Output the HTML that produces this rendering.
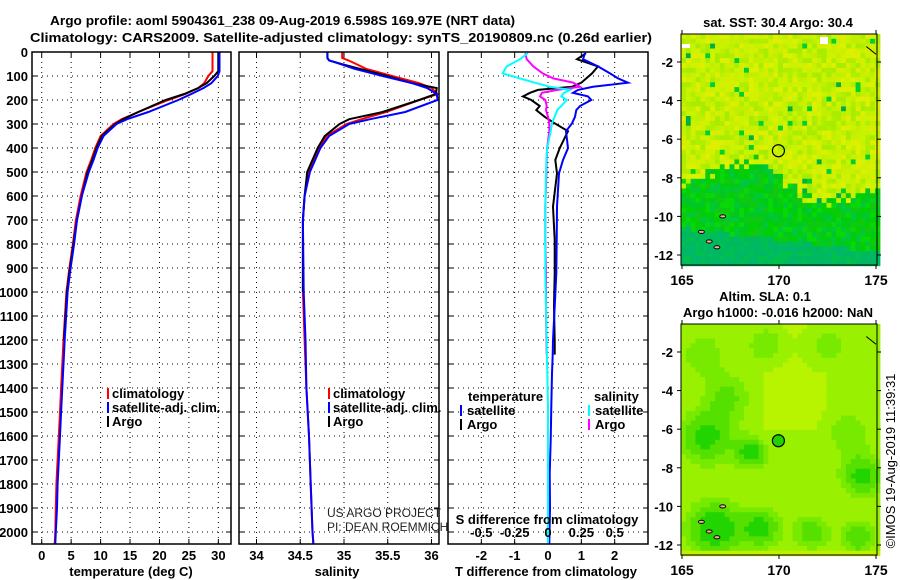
<!DOCTYPE html>
<html><head><meta charset="utf-8"><style>
html,body{margin:0;padding:0;background:#fff;}
svg{display:block;font-family:"Liberation Sans",sans-serif;}
.b{font-weight:bold;font-size:13px;fill:#000;}
</style></head><body>
<svg id="fig" width="900" height="580" viewBox="0 0 900 580" xmlns="http://www.w3.org/2000/svg">
<text class="b" x="50" y="25" font-size="14" textLength="465" lengthAdjust="spacingAndGlyphs">Argo profile: aoml 5904361_238 09-Aug-2019 6.598S 169.97E (NRT data)</text>
<text class="b" x="30" y="42" font-size="14" textLength="622" lengthAdjust="spacingAndGlyphs">Climatology: CARS2009. Satellite-adjusted climatology: synTS_20190809.nc (0.26d earlier)</text>
<g id="panels"></g>
<g id="maps"></g>
</svg>
<script>
// ---- data ----
const tDepth = [0,80,100,130,150,175,200,250,280,300,350,400,450,500,600,700,800,900,1000,1200,1400,1500,1600,1700,1800,1900,2000,2050];
const tClim  = [29.0,29.0,28.3,27.6,26.6,24.4,21.5,16.4,13.6,12.2,10.0,9.1,8.4,7.6,6.6,5.8,5.3,4.7,4.2,3.7,3.3,3.1,2.9,2.7,2.5,2.4,2.3,2.2];
const tSat   = [30.2,30.2,29.9,28.8,27.5,25.4,23.2,18.1,14.5,12.7,10.5,9.5,8.8,8.0,6.8,6.0,5.5,4.9,4.4,3.9,3.5,3.3,3.1,2.9,2.7,2.6,2.4,2.3];
const tArgo  = [30.0,30.0,29.3,28.0,26.6,24.2,21.0,16.4,13.8,12.5,10.2,9.3,8.6,7.8,6.8,6.0,5.4,4.8,4.3,3.8];
const sDepth = [0,25,35,50,70,100,130,150,175,200,250,280,300,350,400,500,600,700,1000,1200,1400,1600,1800,2000,2050];
const sClim  = [34.98,34.98,35.05,35.14,35.25,35.55,35.86,36.0,36.07,35.86,35.48,35.2,35.03,34.8,34.72,34.6,34.55,34.53,34.53,34.55,34.57,34.6,34.62,34.64,34.65];
const sSat   = [34.81,34.81,34.83,34.96,35.12,35.44,35.78,35.95,36.06,36.07,35.7,35.3,35.06,34.83,34.73,34.61,34.55,34.53,34.54,34.56,34.57,34.6,34.62,34.64,34.65];
const sArgo  = [34.81,34.81,34.83,34.97,35.18,35.49,35.78,36.06,36.05,35.86,35.44,35.06,34.95,34.78,34.70,34.58,34.55,34.53,34.53];
const dDepth = [5,30,60,89,110,128,145,158,170,185,200,225,242,270,297,330,401,450,506,644,783,922,1061,1200,1261,1339,1478,1617,1756,1900,2050];
const dTsat  = [1.11,1.05,1.5,1.86,2.1,2.4,1.35,0.9,0.75,1.2,1.3,0.96,0.85,0.81,0.72,0.54,0.6,0.45,0.33,0.27,0.26,0.25,0.2,0.15,0.14,0.12,0.1,0.08,0.05,0.06,0.04];
const dTargo = [1.14,0.87,1.5,1.32,1.15,1.0,0.72,-0.3,-0.54,-0.75,-0.5,-0.25,-0.35,-0.1,0.2,0.6,0.35,0.22,0.27,0.15,0.2,0.2,0.18,0.2,0.2];
const dSsat  = [-0.15,-0.21,-0.31,-0.34,-0.21,-0.1,0.015,0.165,0.12,0.1,0.14,0.1,0.07,0.05,0.03,0.02,-0.007,-0.012,-0.015,-0.02,-0.02,-0.02,-0.015,-0.01,-0.008,-0.005,0,0,0,0,0];
const dSargo = [-0.17,-0.16,-0.11,-0.04,0.04,0.19,0.24,0.07,-0.045,-0.06,-0.02,-0.01,-0.015,0,0.01,0.01,-0.007,-0.01,-0.012,-0.02,-0.02,-0.015,-0.015,-0.012,-0.01];
const depthTicks = [0,100,200,300,400,500,600,700,800,900,1000,1100,1200,1300,1400,1500,1600,1700,1800,1900,2000];
const tTicks = [0,5,10,15,20,25,30];
const sTicks = [34,34.5,35,35.5,36];
const dTTicks = [-2,-1,0,1,2];
const dSTicks = [-0.5,-0.25,0,0.25,0.5];
const dSTickLabels = ['-0.5','-0.25','0','0.25','0.5'];

const NS='http://www.w3.org/2000/svg';
function el(tag, attrs, parent){const e=document.createElementNS(NS,tag);for(const k in attrs)e.setAttribute(k,attrs[k]);parent.appendChild(e);return e;}
const yTop=52, pxPerM=0.24;
const yS = d => yTop + d*pxPerM;
const yBot = yS(2050);
const panels = document.getElementById('panels');

function makePanel(name, x0, x1, vmin, vmax, gridVals){
  const g = el('g',{},panels);
  
  
  const xS = v => x0 + (v-vmin)/(vmax-vmin)*(x1-x0);
  depthTicks.forEach(d=>{ if(d>0){ el('line',{x1:x0,x2:x1,y1:yS(d),y2:yS(d),stroke:'#000','stroke-width':1,'stroke-dasharray':'1 4'},g);
    el('line',{x1:x0,x2:x0+5,y1:yS(d),y2:yS(d),stroke:'#000'},g); el('line',{x1:x1-5,x2:x1,y1:yS(d),y2:yS(d),stroke:'#000'},g);} });
  gridVals.forEach(v=>{ el('line',{x1:xS(v),x2:xS(v),y1:yTop,y2:yBot,stroke:'#000','stroke-width':1,'stroke-dasharray':'1 4'},g);
    el('line',{x1:xS(v),x2:xS(v),y1:yBot-5,y2:yBot,stroke:'#000'},g); el('line',{x1:xS(v),x2:xS(v),y1:yTop,y2:yTop+5,stroke:'#000'},g);});
  return {g,xS};
}
function drawLine(p, depths, vals, color, name, w){
  const pts = vals.map((v,i)=>p.xS(v).toFixed(1)+','+yS(depths[i]).toFixed(1)).join(' ');
  const l = el('polyline',{points:pts,fill:'none',stroke:color,'stroke-width':w||2},p.g);
  
  
}
function frame(p,x0,x1){ el('rect',{x:x0,y:yTop,width:x1-x0,height:yBot-yTop,fill:'none',stroke:'#000','stroke-width':1.5},p.g); }
function txt(parent, x, y, s, anchor, size, weight, fill){ const t=el('text',{x:x,y:y,'text-anchor':anchor||'start','font-size':size||12,'font-weight':weight||'bold',fill:fill||'#000'},parent); t.textContent=s; return t; }

const pT = makePanel('temperature-panel', 32, 231, -1.65, 32.15, tTicks);
drawLine(pT, tDepth, tClim, '#ff0000', 'temp-climatology-line');
drawLine(pT, tDepth.slice(0,tArgo.length), tArgo, '#000', 'temp-argo-line');
drawLine(pT, tDepth, tSat, '#0000ff', 'temp-satellite-line');
frame(pT,32,231);
tTicks.forEach(v=>{ const t=txt(pT.g,pT.xS(v),560,String(v),'middle',13);
   });
const tt=txt(pT.g,131,576,'temperature (deg C)','middle',13);  
depthTicks.forEach(d=>{ const t=txt(pT.g,28,yS(d)+5,String(d),'end',13);  });

const pS = makePanel('salinity-panel', 239, 439, 33.8, 36.086, sTicks);
drawLine(pS, sDepth, sClim, '#ff0000', 'sal-climatology-line');
drawLine(pS, sDepth.slice(0,sArgo.length), sArgo, '#000', 'sal-argo-line');
drawLine(pS, sDepth, sSat, '#0000ff', 'sal-satellite-line');
frame(pS,239,439);
sTicks.forEach(v=>{ const t=txt(pS.g,pS.xS(v),560,String(v),'middle',13);  });
const st=txt(pS.g,337,576,'salinity','middle',13);  
const us1=txt(pS.g,327,517,'US ARGO PROJECT','start',12,'normal','#222');  
const us2=txt(pS.g,327,531,'PI: DEAN ROEMMICH','start',12,'normal','#222');  

function legend(p, x, items, nm){
  const lg = el('g',{},p.g);
  
  
  items.forEach((it,i)=>{ const y=398+i*14; el('rect',{x:x,y:y-10,width:2,height:11,fill:it[1]},lg);
    const t=txt(lg,x+5,y,it[0],'start',13);  });
}
legend(pT,107,[['climatology','#ff0000'],['satellite-adj. clim.','#0000ff'],['Argo','#000']],'temp-legend');
legend(pS,328,[['climatology','#ff0000'],['satellite-adj. clim.','#0000ff'],['Argo','#000']],'sal-legend');

const pD = makePanel('difference-panel', 448, 648, -3, 3, dTTicks);
const pDS = {g:pD.g, xS: v => 448 + (v+0.75)/1.5*200};
drawLine(pD, dDepth.slice(0,dTargo.length), dTargo, '#000', 'tdiff-argo-line');
drawLine(pD, dDepth, dTsat, '#0000ff', 'tdiff-satellite-line');
drawLine(pDS, dDepth.slice(0,dSargo.length), dSargo, '#ff00ff', 'sdiff-argo-line');
drawLine(pDS, dDepth, dSsat, '#00ffff', 'sdiff-satellite-line');
frame(pD,448,648);
dTTicks.forEach(v=>{ const t=txt(pD.g,pD.xS(v),560,String(v),'middle',13);  });
dSTicks.forEach((v,i)=>{ const t=txt(pD.g,pDS.xS(v),537,dSTickLabels[i],'middle',13);  });
const sd=txt(pD.g,547,524,'S difference from climatology','middle',13);  
const td=txt(pD.g,546,576,'T difference from climatology','middle',13);  
(function(){
  const lg = el('g',{},pD.g);
  
  
  txt(lg,468,401,'temperature','start',13); txt(lg,594,401,'salinity','start',13);
  [['satellite','#0000ff',460],['Argo','#000',460],['satellite','#00ffff',588],['Argo','#ff00ff',588]].forEach((it,i)=>{
    const y=415+(i%2)*14; el('rect',{x:it[2],y:y-10,width:2,height:11,fill:it[1]},lg);
    const t=txt(lg,it[2]+7,y,it[0],'start',13);  });
})();

const maps=document.getElementById('maps');
function hash(i,j,s){let h=(i*374761393+j*668265263+s*982451653)|0;h=(h^(h>>>13))*1274126177|0;return ((h^(h>>>16))>>>0)/4294967296;}
function drawMap(name, y0, colorFn){
  const g=el('g',{},maps);
  
  
  const x0=681,x1=877,y1=y0+231;
  const lonS=v=>682+(v-165)*19.4, latS=v=>y0+(-0.55-v)*19.3;
  const cw=19.4/4, ch=19.3/4;
  for(let i=0;i<41;i++)for(let j=0;j<48;j++){
    const lon=165+i*0.25, lat=-0.55-j*0.25;
    el('rect',{x:(x0+i*cw).toFixed(1),y:(y0+j*ch).toFixed(1),width:(cw+0.6).toFixed(1),height:(ch+0.6).toFixed(1),fill:colorFn(lon,lat,i,j)},g);
  }
  [[166,-10.8],[166.8,-11.6],[166.4,-11.3],[167.1,-10.0]].forEach(p=>el('ellipse',{cx:lonS(p[0]),cy:latS(p[1]),rx:3,ry:1.6,fill:'#f0b090',stroke:'#000','stroke-width':1},g));
  el('line',{x1:lonS(174.5),y1:latS(-1.2),x2:lonS(175),y2:latS(-1.6),stroke:'#000','stroke-width':1},g);
  el('rect',{x:x0,y:y0,width:x1-x0,height:y1-y0,fill:'none',stroke:'#000','stroke-width':1},g);
  [-2,-4,-6,-8,-10,-12].forEach(v=>{ el('line',{x1:x0-4,x2:x0,y1:latS(v),y2:latS(v),stroke:'#000'},g); el('line',{x1:x1,x2:x1+4,y1:latS(v),y2:latS(v),stroke:'#000'},g);
    const t=txt(g,673,latS(v)+5,String(v),'end',13);  });
  [165,170,175].forEach(v=>{ el('line',{x1:lonS(v),x2:lonS(v),y1:y1,y2:y1+4,stroke:'#000'},g); el('line',{x1:lonS(v),x2:lonS(v),y1:y0-4,y2:y0,stroke:'#000'},g);
    const t=txt(g,lonS(v),y1+20,String(v),'middle',14);  });
  return {g,lonS,latS};
}
function sstBoundary(lon){ if(lon<169) return -8+ (lon-165)*0.25; if(lon<172) return -7-(lon-169)*0.8; return -9.4+(lon-172)*0.3; }
const m1=drawMap('sst-map',34,(lon,lat,i,j)=>{
  const r=hash(i,j,1); const b=sstBoundary(lon)+(hash(i,j,7)-0.5)*0.8;
  if(lat>b){ if(r>0.985) return '#00b040'; if(r>0.97) return '#00d030';
    const c=['#c0f000','#c8f400','#d4f000','#b0ee00','#c8f000','#dcf000','#a8ec00']; return c[Math.floor(hash(i,j,3)*c.length)]; }
  if(lat<-10.5-(lon-165)*0.12) { const c=['#00b868','#00b860','#00c050']; return c[Math.floor(r*3)]; }
  const c=['#00d000','#00c820','#10c810','#00c838','#08d808']; return c[Math.floor(r*c.length)];
});
el('circle',{cx:m1.lonS(169.97),cy:m1.latS(-6.598),r:6,fill:'none',stroke:'#000','stroke-width':1.2},m1.g);
el('rect',{x:682,y:44,width:8,height:4,fill:'#fff'},m1.g);
el('rect',{x:820,y:37,width:8,height:7,fill:'#fff'},m1.g);
const blobs=[[166.2,-6.3,1.4,1],[168.5,-7.1,0.8,1.1],[174.2,-8.3,1.1,1],[166.6,-11,1.4,1.2],[169,-11,1,1],[171.6,-11.2,0.9,0.8],[174,-11.5,0.9,0.8],[167.3,-4.2,1.2,0.6],[173.5,-6,1.2,0.5],[166,-2,1.2,0.5],[169.2,-1.5,1,0.5],[172.5,-1.5,1.2,0.4]];
const m2=drawMap('sla-map',324,(lon,lat,i,j)=>{
  let v=0; blobs.forEach(b=>{const dx=(lon-b[0])/b[2],dy=(lat-b[1])/b[2]; v+=b[3]*Math.exp(-(dx*dx+dy*dy));});
  if(lat<-12.1) return '#c0f000';
  if(v>0.85) return '#22d400'; if(v>0.55) return '#55e000'; if(v>0.3) return '#77ea00';
  if(v<0.08 && lon>169 && lon<172.5 && lat>-6) return '#b8f400';
  return '#99f000';
});
el('circle',{cx:m2.lonS(169.97),cy:m2.latS(-6.598),r:6,fill:'#22d000',stroke:'#000','stroke-width':1.2},m2.g);
const mt1=txt(maps,778,27,'sat. SST: 30.4 Argo: 30.4','middle',13);  
const mt2=txt(maps,765,301,'Altim. SLA: 0.1','middle',13);  
const mt3=txt(maps,778,317,'Argo h1000: -0.016 h2000: NaN','middle',13);  
const cr=el('text',{x:0,y:0,'text-anchor':'middle','font-size':13,transform:'translate(895,461) rotate(-90)'},maps); cr.textContent='©IMOS 19-Aug-2019 11:39:31';
 
</script>
</body></html>
